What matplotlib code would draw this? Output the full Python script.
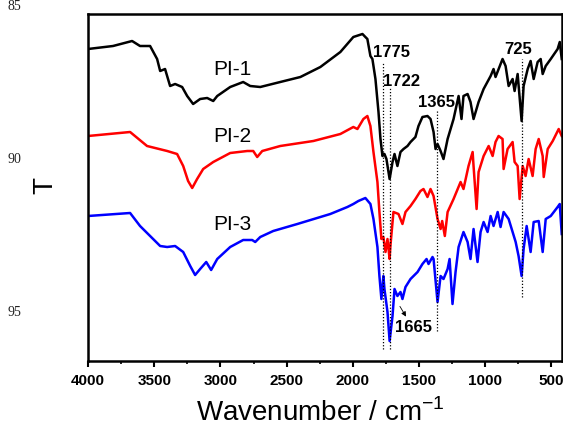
import matplotlib
matplotlib.use("Agg")
import matplotlib.pyplot as plt
from matplotlib.ticker import MultipleLocator

plt.rcParams['font.family'] = ['Liberation Sans', 'DejaVu Sans']
plt.rcParams['mathtext.fontset'] = 'custom'
plt.rcParams['mathtext.rm'] = 'Liberation Sans'

# wavenumber (cm-1) and transmittance (offset, arbitrary units)
pi1_wn = [4000, 3811, 3667, 3607, 3531, 3478, 3455, 3418, 3380, 3342, 3289, 3251, 3206, 3153,
          3100, 3054, 3024, 2926, 2828, 2775, 2699, 2548, 2396, 2245, 2094, 1996, 1927, 1905,
          1890, 1867, 1852, 1829, 1806, 1791, 1776, 1761, 1746, 1722, 1700, 1685, 1663, 1640,
          1617, 1587, 1564, 1527, 1504, 1474, 1436, 1413, 1390, 1375, 1360, 1337, 1315, 1284,
          1239, 1201, 1179, 1164, 1133, 1111, 1088, 1050, 1012, 959, 937, 922, 869, 846, 823,
          793, 778, 755, 725, 710, 679, 657, 634, 604, 581, 566, 543, 505, 453, 437, 422]
pi1_t = [31.2, 31.5, 32.0, 31.5, 31.5, 30.2, 29.0, 29.2, 27.5, 27.7, 27.4, 26.5, 25.7, 26.2,
         26.3, 26.0, 26.5, 27.4, 27.9, 27.5, 27.4, 27.9, 28.4, 29.4, 30.9, 32.4, 32.7, 32.4,
         32.2, 30.5, 30.2, 28.2, 24.9, 22.2, 20.5, 20.7, 20.2, 18.2, 19.9, 20.7, 19.5, 20.9,
         21.2, 21.5, 21.9, 22.4, 23.5, 24.4, 24.5, 24.2, 22.9, 21.2, 21.7, 21.0, 20.2, 22.2,
         24.2, 26.5, 24.2, 26.5, 26.7, 25.9, 24.2, 25.9, 27.2, 28.5, 29.2, 28.4, 30.2, 29.5, 27.5,
         28.2, 27.0, 28.7, 24.0, 27.5, 29.2, 30.0, 28.2, 29.9, 30.2, 28.7, 29.5, 30.2, 31.2, 31.9, 30.2]

pi2_wn = [4000, 3682, 3554, 3402, 3327, 3281, 3244, 3213, 3176, 3130, 3054, 2926, 2797, 2752,
          2722, 2684, 2548, 2298, 2094, 1996, 1965, 1920, 1890, 1867, 1844, 1814, 1799, 1784,
          1769, 1753, 1738, 1722, 1716, 1693, 1655, 1625, 1602, 1564, 1527, 1489, 1466, 1436,
          1413, 1390, 1360, 1337, 1325, 1305, 1284, 1239, 1186, 1164, 1126, 1095, 1088, 1065,
          1050, 1012, 974, 944, 922, 899, 869, 861, 831, 793, 778, 755, 740, 717, 695, 672, 642,
          619, 596, 566, 558, 528, 490, 445, 422]
pi2_t = [22.5, 22.9, 21.5, 21.0, 20.7, 19.5, 18.0, 17.3, 18.2, 19.2, 19.9, 20.8, 21.0, 21.0,
         20.4, 21.0, 21.5, 22.0, 22.7, 23.4, 23.2, 24.2, 24.5, 23.5, 20.9, 17.9, 14.9, 12.2,
         12.4, 10.9, 12.2, 10.2, 11.5, 14.9, 14.7, 13.7, 14.9, 15.5, 16.2, 17.0, 17.2, 16.4,
         17.2, 16.5, 14.2, 13.2, 14.0, 12.5, 14.9, 16.2, 17.9, 17.2, 19.5, 20.9, 19.5, 15.2,
         18.9, 20.5, 21.5, 20.5, 21.9, 22.5, 22.2, 19.2, 21.2, 21.9, 19.9, 19.5, 16.2, 19.5,
         18.5, 20.2, 18.5, 21.2, 22.2, 20.5, 18.4, 21.2, 22.0, 23.2, 22.5]

pi3_wn = [4000, 3682, 3607, 3531, 3455, 3402, 3342, 3281, 3228, 3191, 3153, 3107, 3070, 3024,
          2926, 2828, 2760, 2737, 2699, 2601, 2419, 2170, 2041, 1996, 1958, 1905, 1867, 1844,
          1814, 1799, 1784, 1769, 1761, 1738, 1722, 1700, 1685, 1663, 1640, 1625, 1602, 1564,
          1511, 1474, 1443, 1428, 1398, 1390, 1360, 1337, 1315, 1284, 1269, 1247, 1224, 1201,
          1164, 1133, 1111, 1088, 1058, 1035, 1012, 982, 959, 937, 906, 884, 861, 823, 793, 770,
          748, 725, 710, 687, 657, 634, 596, 566, 543, 505, 453, 437, 422]
pi3_t = [14.5, 14.8, 13.5, 12.5, 11.5, 11.4, 11.5, 10.9, 9.5, 8.6, 9.2, 9.9, 9.1, 10.2,
         11.4, 12.1, 12.1, 11.9, 12.4, 13.0, 13.7, 14.7, 15.4, 15.7, 16.0, 16.3, 15.7, 14.2,
         11.4, 8.5, 6.2, 8.5, 7.2, 4.9, 2.0, 4.5, 7.2, 6.5, 6.9, 6.2, 7.4, 8.2,
         8.9, 9.7, 10.2, 9.7, 10.4, 10.2, 5.9, 8.5, 8.2, 9.2, 10.2, 5.7, 8.9, 11.4,
         12.9, 11.9, 10.2, 13.2, 9.9, 12.9, 13.9, 12.9, 14.5, 13.5, 14.9, 13.4, 14.9, 14.2, 12.9, 11.9,
         10.5, 8.5, 11.2, 13.5, 10.9, 13.9, 14.0, 10.9, 14.2, 14.5, 15.4, 15.7, 12.7]

# peak markers: wavenumber, line top, line bottom
peak_wn = [1775, 1722, 1365, 725]
peak_top = [29.9, 27.4, 25.0, 30.2]
peak_bottom = [1.2, 1.2, 3.0, 6.4]
peak_labels = ['1775', '1722', '1365', '725']
label_x = [1844, 1769, 1511, 853]
label_y = [30.9, 28.0, 25.9, 31.2]

sample_names = ['PI-1', 'PI-2', 'PI-3']
sample_y = [29.2, 22.5, 13.7]

fig = plt.figure(figsize=(5.63, 4.27), dpi=100)
ax = fig.add_axes([88 / 563, 1 - 362 / 427, 474 / 563, 347 / 427])

ax.plot(pi1_wn, pi1_t, color='black', lw=1.8)
ax.plot(pi2_wn, pi2_t, color='#ff0000', lw=1.8)
ax.plot(pi3_wn, pi3_t, color='#0000ff', lw=1.8)

for wn, top, bot in zip(peak_wn, peak_top, peak_bottom):
    ax.plot([wn, wn], [bot, top], color='black', lw=0.9, ls=(0, (1, 1.5)))
for lab, lx, ly in zip(peak_labels, label_x, label_y):
    ax.text(lx, ly, lab, fontsize=12, fontweight='bold', ha='left', va='center')

ax.text(1678, 3.4, '1665', fontsize=12, fontweight='bold', ha='left', va='center')
ax.annotate('', xy=(1587, 4.2), xytext=(1655, 5.7),
            arrowprops=dict(arrowstyle='-|>', color='black', lw=0.6, mutation_scale=7))

for name, sy in zip(sample_names, sample_y):
    ax.text(3054, sy, name, fontsize=15, ha='left', va='center')

ax.set_xlim(4000, 420)
ax.set_ylim(0, 34.7)
ax.xaxis.set_major_locator(MultipleLocator(500))
ax.xaxis.set_minor_locator(MultipleLocator(250))
ax.set_yticks([])
ax.tick_params(axis='x', which='major', direction='out', length=4.5, width=1.5,
               labelsize=11, pad=4)
ax.tick_params(axis='x', which='minor', direction='out', length=2.5, width=1.2)
for lab in ax.get_xticklabels():
    lab.set_fontweight('bold')
for sp in ax.spines.values():
    sp.set_linewidth(1.8)

ax.set_xlabel('Wavenumber / cm$^{-1}$', fontsize=20)
ax.xaxis.set_label_coords(0.49, -0.106)
ax.set_ylabel('T', fontsize=20)
ax.yaxis.set_label_coords(-0.063, 0.51)

# stray y tick labels on the far left
for val, py in zip(['85', '90', '95'], [7, 160, 313]):
    fig.text(8 / 563, 1 - py / 427, val, fontsize=10, family='Liberation Serif',
             ha='left', va='center', color='#222222')

fig.savefig('out.png', dpi=100)
